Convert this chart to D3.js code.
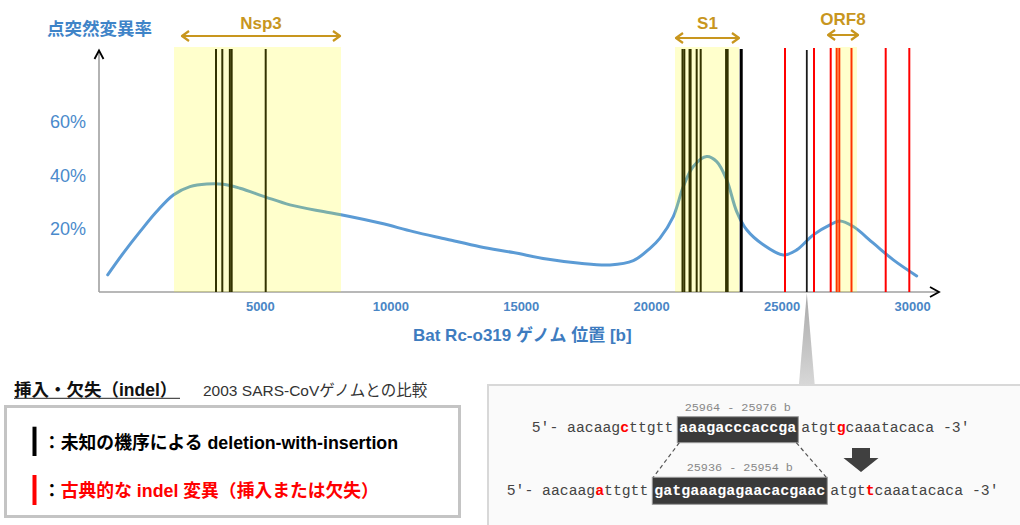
<!DOCTYPE html>
<html><head><meta charset="utf-8">
<script src="https://cdn.jsdelivr.net/npm/d3@7"></script>
<style>html,body{margin:0;padding:0;background:#fff;} svg{display:block;}</style>
</head><body><svg id="c" width="1020" height="525"></svg>
<script>
// ---------- data ----------
const xTicks = [5000, 10000, 15000, 20000, 25000, 30000];
const yTicks = [20, 40, 60];
const curvePos = [-832,-234,406,1046,1683,2323,2963,3599,4239,5224,6156,7432,8110,9605,10882,12162,13438,14714,15995,17271,18421,19314,19954,20337,20847,21230,21614,22127,22511,22894,23277,23660,24297,25063,25577,26213,26853,27237,27746,28513,29280,30176];
const curveRate = [2.9,11.0,19.0,26.5,32.7,35.8,36.8,36.7,35.2,31.9,29.0,26.5,25.3,22.2,19.0,16.2,13.4,11.2,8.8,7.2,6.6,8.2,12.8,16.6,24.6,35.8,43.3,47.0,45.1,38.3,26.5,19.7,14.1,10.3,12.2,17.8,21.5,23.0,20.9,14.7,8.5,2.5];
const geneNames = ["Nsp3", "S1", "ORF8"];
const geneStart = [1709, 20912, 27045];
const geneEnd = [8110, 23366, 27888];
const arrowStart = [1978, 20912, 26740];
const arrowEnd = [8110, 23403, 27966];
const blackIndels = [3319,3561,3850,3920,5224,21200,21270,21470,21510,21743,21897,22870,22930,23430,23470];
const focusIndel = 25964;
const redIndels = [25129,26240,26880,27110,27210,27677,28988,29893];
const seqRanges = ["25964 - 25976 b", "25936 - 25954 b"];
const seqPrefix = ["5\u2032- aacaagcttgtt", "5\u2032- aacaagattgtt"];
const seqPrefixMut = [10, 10];
const seqInsert = ["aaagacccaccga", "gatgaaagagaacacgaac"];
const seqSuffix = ["atgtgcaaatacaca -3\u2032", "atgttcaaatacaca -3\u2032"];
const seqSuffixMut = [4, 4];

// ---------- layout ----------
const FONT = "'Liberation Sans','Noto Sans CJK JP',sans-serif";
const MONO = "'Liberation Mono','DejaVu Sans Mono',monospace";
const svg = d3.select("#c");
svg.append("rect").attr("width",1020).attr("height",525).attr("fill","#fff");
const x = d3.scaleLinear().domain([0, 30000]).range([129.4, 912.1]);
const y = d3.scaleLinear().domain([-3.5, 86]).range([292, 52]);
const baseY = 292, axisLeftX = 99, lineTop = 48, shadeTop = 47;

// axes lines
svg.append("line").attr("x1",axisLeftX).attr("x2",axisLeftX).attr("y1",baseY).attr("y2",y(86))
  .attr("stroke","#a0a0a0").attr("stroke-width",1.6);
svg.append("line").attr("x1",axisLeftX).attr("x2",937).attr("y1",baseY).attr("y2",baseY)
  .attr("stroke","#a0a0a0").attr("stroke-width",1.6);
svg.append("path").attr("d",`M${axisLeftX-4.5},${y(86)+7} L${axisLeftX},${y(86)-1.5} L${axisLeftX+4.5},${y(86)+7}`)
  .attr("fill","none").attr("stroke","#000").attr("stroke-width",1.8);
svg.append("path").attr("d",`M930,${baseY-5} L939,${baseY} L930,${baseY+5}`)
  .attr("fill","none").attr("stroke","#000").attr("stroke-width",1.8);

// curve
const curveData = curvePos.map((p,i)=>[p, curveRate[i]]);
svg.append("path").datum(curveData)
  .attr("d", d3.line().x(d=>x(d[0])).y(d=>y(d[1])).curve(d3.curveCatmullRom.alpha(0.5)))
  .attr("fill","none").attr("stroke","#5b9bd5").attr("stroke-width",3).attr("stroke-linecap","round");

// indel lines
svg.append("g").selectAll("line").data(blackIndels).join("line")
  .attr("x1",d=>x(d)).attr("x2",d=>x(d)).attr("y1",lineTop+1).attr("y2",baseY)
  .attr("stroke","#000").attr("stroke-width",2);
svg.append("line").attr("x1",x(focusIndel)).attr("x2",x(focusIndel)).attr("y1",lineTop+2).attr("y2",baseY)
  .attr("stroke","#1a1a1a").attr("stroke-width",1.8);
svg.append("g").selectAll("line").data(redIndels).join("line")
  .attr("x1",d=>x(d)).attr("x2",d=>x(d)).attr("y1",lineTop).attr("y2",baseY)
  .attr("stroke","#ff0000").attr("stroke-width",2);

// yellow gene shading (overlay)
svg.append("g").selectAll("rect").data(geneNames).join("rect")
  .attr("x",(d,i)=>x(geneStart[i])).attr("width",(d,i)=>x(geneEnd[i])-x(geneStart[i]))
  .attr("y",shadeTop).attr("height",baseY-shadeTop)
  .attr("fill","rgba(255,255,0,0.2)");

// gene arrows + labels
const arrowY = [36, 38, 35], labelY = [28.5, 28.5, 25];
const gold = "#c8961e";
geneNames.forEach((g,i)=>{
  const a = x(arrowStart[i]), b = x(arrowEnd[i]), yy = arrowY[i];
  svg.append("line").attr("x1",a+1).attr("x2",b-1).attr("y1",yy).attr("y2",yy)
    .attr("stroke",gold).attr("stroke-width",2);
  svg.append("path").attr("d",`M${a+8},${yy-5} L${a+1},${yy} L${a+8},${yy+5} M${b-8},${yy-5} L${b-1},${yy} L${b-8},${yy+5}`)
    .attr("fill","none").attr("stroke",gold).attr("stroke-width",2.2).attr("stroke-linejoin","round");
  svg.append("text").attr("x",(a+b)/2).attr("y",labelY[i]).attr("text-anchor","middle")
    .attr("font-family",FONT).attr("font-weight","bold").attr("font-size",17).attr("fill",gold).text(g);
});

// x axis ticks
const gx = svg.append("g").attr("transform",`translate(0,${baseY})`)
  .call(d3.axisBottom(x).tickValues(xTicks).tickSize(0).tickPadding(10).tickFormat(d=>String(d)));
gx.select(".domain").remove();
gx.selectAll("text").attr("font-family",FONT).attr("font-weight","bold").attr("font-size",13).attr("fill","#4a86c5");
// y axis ticks
const gy = svg.append("g").attr("transform",`translate(${axisLeftX},0)`)
  .call(d3.axisLeft(y).tickValues(yTicks).tickSize(0).tickPadding(13).tickFormat(d=>d+"%"));
gy.select(".domain").remove();
gy.selectAll("text").attr("font-family",FONT).attr("font-size",18).attr("fill","#4a8acb");

// titles
svg.append("text").attr("x",47).attr("y",34.5).attr("font-family",FONT).attr("font-weight","bold")
  .attr("font-size",17.5).attr("fill","#3f84c8").text("点突然変異率");
svg.append("text").attr("x",413).attr("y",341).attr("font-family",FONT).attr("font-weight","bold")
  .attr("font-size",17).attr("fill","#3e7cbf").text("Bat Rc-o319 ゲノム 位置 [b]");

// ---------- sequence callout ----------
svg.append("rect").attr("x",488).attr("y",385).attr("width",540).attr("height",150)
  .attr("fill","#fafafa").attr("stroke","#d8d8d8").attr("stroke-width",2);
const defs = svg.append("defs");
const grad = defs.append("linearGradient").attr("id","tri").attr("x1",0).attr("x2",0).attr("y1",0).attr("y2",1);
grad.append("stop").attr("offset","0%").attr("stop-color","#a8a8a8");
grad.append("stop").attr("offset","100%").attr("stop-color","#d8d8d8");
const xf = x(focusIndel);
svg.append("path").attr("d",`M${xf},${baseY+1} L${xf-8},386 L${xf+8},386 Z`).attr("fill","url(#tri)");

const seqFS = 14.75, cw = seqFS*0.6, boxFS = 15, bcw = boxFS*0.6;
const rowStartX = [531.7, 506.7], rowBase = [432, 495], boxTop = [416.7, 477.3], boxH = [26, 27], rangeBase = [411, 471];
const boxes = [];
seqPrefix.forEach((pre,r)=>{
  const x0 = rowStartX[r];
  const t = svg.append("text").attr("x",x0).attr("y",rowBase[r]).attr("font-family",MONO)
    .attr("font-size",seqFS).attr("fill","#444").attr("xml:space","preserve");
  const m = seqPrefixMut[r];
  t.append("tspan").text(pre.slice(0,m));
  t.append("tspan").attr("fill","#ff0000").attr("font-weight","bold").text(pre[m]);
  t.append("tspan").text(pre.slice(m+1));
  const bx = x0 + pre.length*cw + 4;
  const bw = seqInsert[r].length*bcw + 4;
  boxes.push([bx, bx+bw]);
  svg.append("rect").attr("x",bx).attr("y",boxTop[r]).attr("width",bw).attr("height",boxH[r])
    .attr("fill","#3a3a3a").attr("stroke","#9a9a9a").attr("stroke-width",1);
  svg.append("text").attr("x",bx+2).attr("y",rowBase[r]).attr("font-family",MONO).attr("font-weight","bold")
    .attr("font-size",boxFS).attr("fill","#fff").text(seqInsert[r]);
  const sx = bx + bw + 3;
  const s = svg.append("text").attr("x",sx).attr("y",rowBase[r]).attr("font-family",MONO)
    .attr("font-size",seqFS).attr("fill","#444").attr("xml:space","preserve");
  const sm = seqSuffixMut[r], suf = seqSuffix[r];
  s.append("tspan").text(suf.slice(0,sm));
  s.append("tspan").attr("fill","#ff0000").attr("font-weight","bold").text(suf[sm]);
  s.append("tspan").text(suf.slice(sm+1));
  svg.append("text").attr("x",bx+bw/2).attr("y",rangeBase[r]).attr("text-anchor","middle")
    .attr("font-family",MONO).attr("font-size",11.8).attr("fill","#888").text(seqRanges[r]);
});
// dashed connectors
svg.append("line").attr("x1",boxes[0][0]+2).attr("y1",boxTop[0]+boxH[0]).attr("x2",boxes[1][0]+1).attr("y2",boxTop[1])
  .attr("stroke","#555").attr("stroke-width",1.2).attr("stroke-dasharray","4,3");
svg.append("line").attr("x1",boxes[0][1]-2).attr("y1",boxTop[0]+boxH[0]).attr("x2",boxes[1][1]-1).attr("y2",boxTop[1])
  .attr("stroke","#555").attr("stroke-width",1.2).attr("stroke-dasharray","4,3");
// big down arrow
svg.append("path").attr("d","M852,448 L870,448 L870,458 L878.5,458 L861,472 L843.5,458 L852,458 Z").attr("fill","#404040");

// ---------- legend ----------
svg.append("text").attr("x",14).attr("y",395.5).attr("font-family",FONT).attr("font-weight","bold")
  .attr("font-size",17.5).attr("fill","#111").text("挿入・欠失（indel）");
svg.append("line").attr("x1",14).attr("x2",180).attr("y1",398.3).attr("y2",398.3).attr("stroke","#222").attr("stroke-width",1);
svg.append("text").attr("x",203).attr("y",395.5).attr("font-family",FONT)
  .attr("font-size",15.5).attr("fill","#333").text("2003 SARS-CoVゲノムとの比較");
svg.append("rect").attr("x",5.5).attr("y",406.5).attr("width",454).attr("height",110)
  .attr("fill","#fff").attr("stroke","#c4c4c4").attr("stroke-width",3);
svg.append("rect").attr("x",32.5).attr("y",426.7).attr("width",4).attr("height",29.3).attr("fill","#000");
svg.append("rect").attr("x",32.5).attr("y",475).attr("width",4).attr("height",30).attr("fill","#ff0000");
svg.append("text").attr("x",43).attr("y",448.5).attr("font-family",FONT).attr("font-weight","bold")
  .attr("font-size",17.8).attr("fill","#000").text("：未知の機序による deletion-with-insertion");
const lt = svg.append("text").attr("x",43).attr("y",496.8).attr("font-family",FONT).attr("font-weight","bold")
  .attr("font-size",17.8);
lt.append("tspan").attr("fill","#000").text("：");
lt.append("tspan").attr("fill","#ff0000").text("古典的な indel 変異（挿入または欠失）");
</script></body></html>
